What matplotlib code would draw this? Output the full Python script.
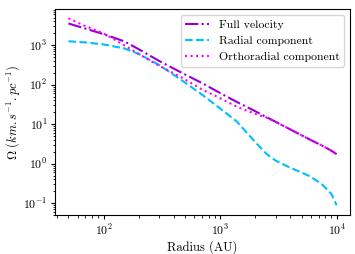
import matplotlib
matplotlib.use("Agg")
import matplotlib.pyplot as plt

plt.rcParams["font.family"] = "serif"
plt.rcParams["font.serif"] = ["cmr10", "DejaVu Serif"]
plt.rcParams["mathtext.fontset"] = "cm"
plt.rcParams["axes.formatter.use_mathtext"] = True
plt.rcParams["font.size"] = 9
plt.rcParams["xtick.labelsize"] = 8.5
plt.rcParams["ytick.labelsize"] = 8.5
plt.rcParams["xtick.major.size"] = 3
plt.rcParams["ytick.major.size"] = 3
plt.rcParams["xtick.minor.size"] = 1.8
plt.rcParams["ytick.minor.size"] = 1.8

# radius in AU
radius = [50, 70, 100, 150, 200, 300, 470, 700, 1000, 1400, 2000, 2500,
          3000, 4000, 5000, 6000, 7500, 9000, 10000]
# angular velocity, km/s/pc
full_vel = [3548, 2630, 1905, 1260, 794, 400, 200, 110, 61.7, 36.3, 21.4,
            15.1, 11.5, 7.4, 5.25, 3.98, 2.88, 2.14, 1.74]
radial = [1259, 1175, 1047, 832, 603, 316, 129, 56.2, 25.1, 11.5, 3.55,
          1.78, 1.20, 0.79, 0.60, 0.47, 0.30, 0.174, 0.089]
ortho = [4786, 3020, 1995, 1000, 603, 302, 151, 75.9, 45.7, 27.5, 18.2,
         14.8, 11.5, 7.4, 5.25, 3.98, 2.88, 2.14, 1.74]

fig = plt.figure(figsize=(3.55, 2.54), dpi=100)
ax = fig.add_axes([0.155, 0.153, 0.831, 0.812])

ax.plot(radius, full_vel, color="darkviolet", ls="-.", lw=1.5, label="Full velocity")
ax.plot(radius, radial, color="deepskyblue", ls="--", lw=1.5, label="Radial component")
ax.plot(radius, ortho, color="magenta", ls=":", lw=1.5, label="Orthoradial component")

ax.set_xscale("log")
ax.set_yscale("log")
ax.set_ylim(0.05, 8300)
ax.tick_params(which="both", pad=2.5)
ax.set_xlabel("Radius (AU)", labelpad=2)
ax.set_ylabel(r"$\Omega\ (km.s^{-1}.pc^{-1})$", labelpad=1)
ax.legend(loc="upper right", fontsize=8.5)

fig.savefig("out.png", dpi=100)
